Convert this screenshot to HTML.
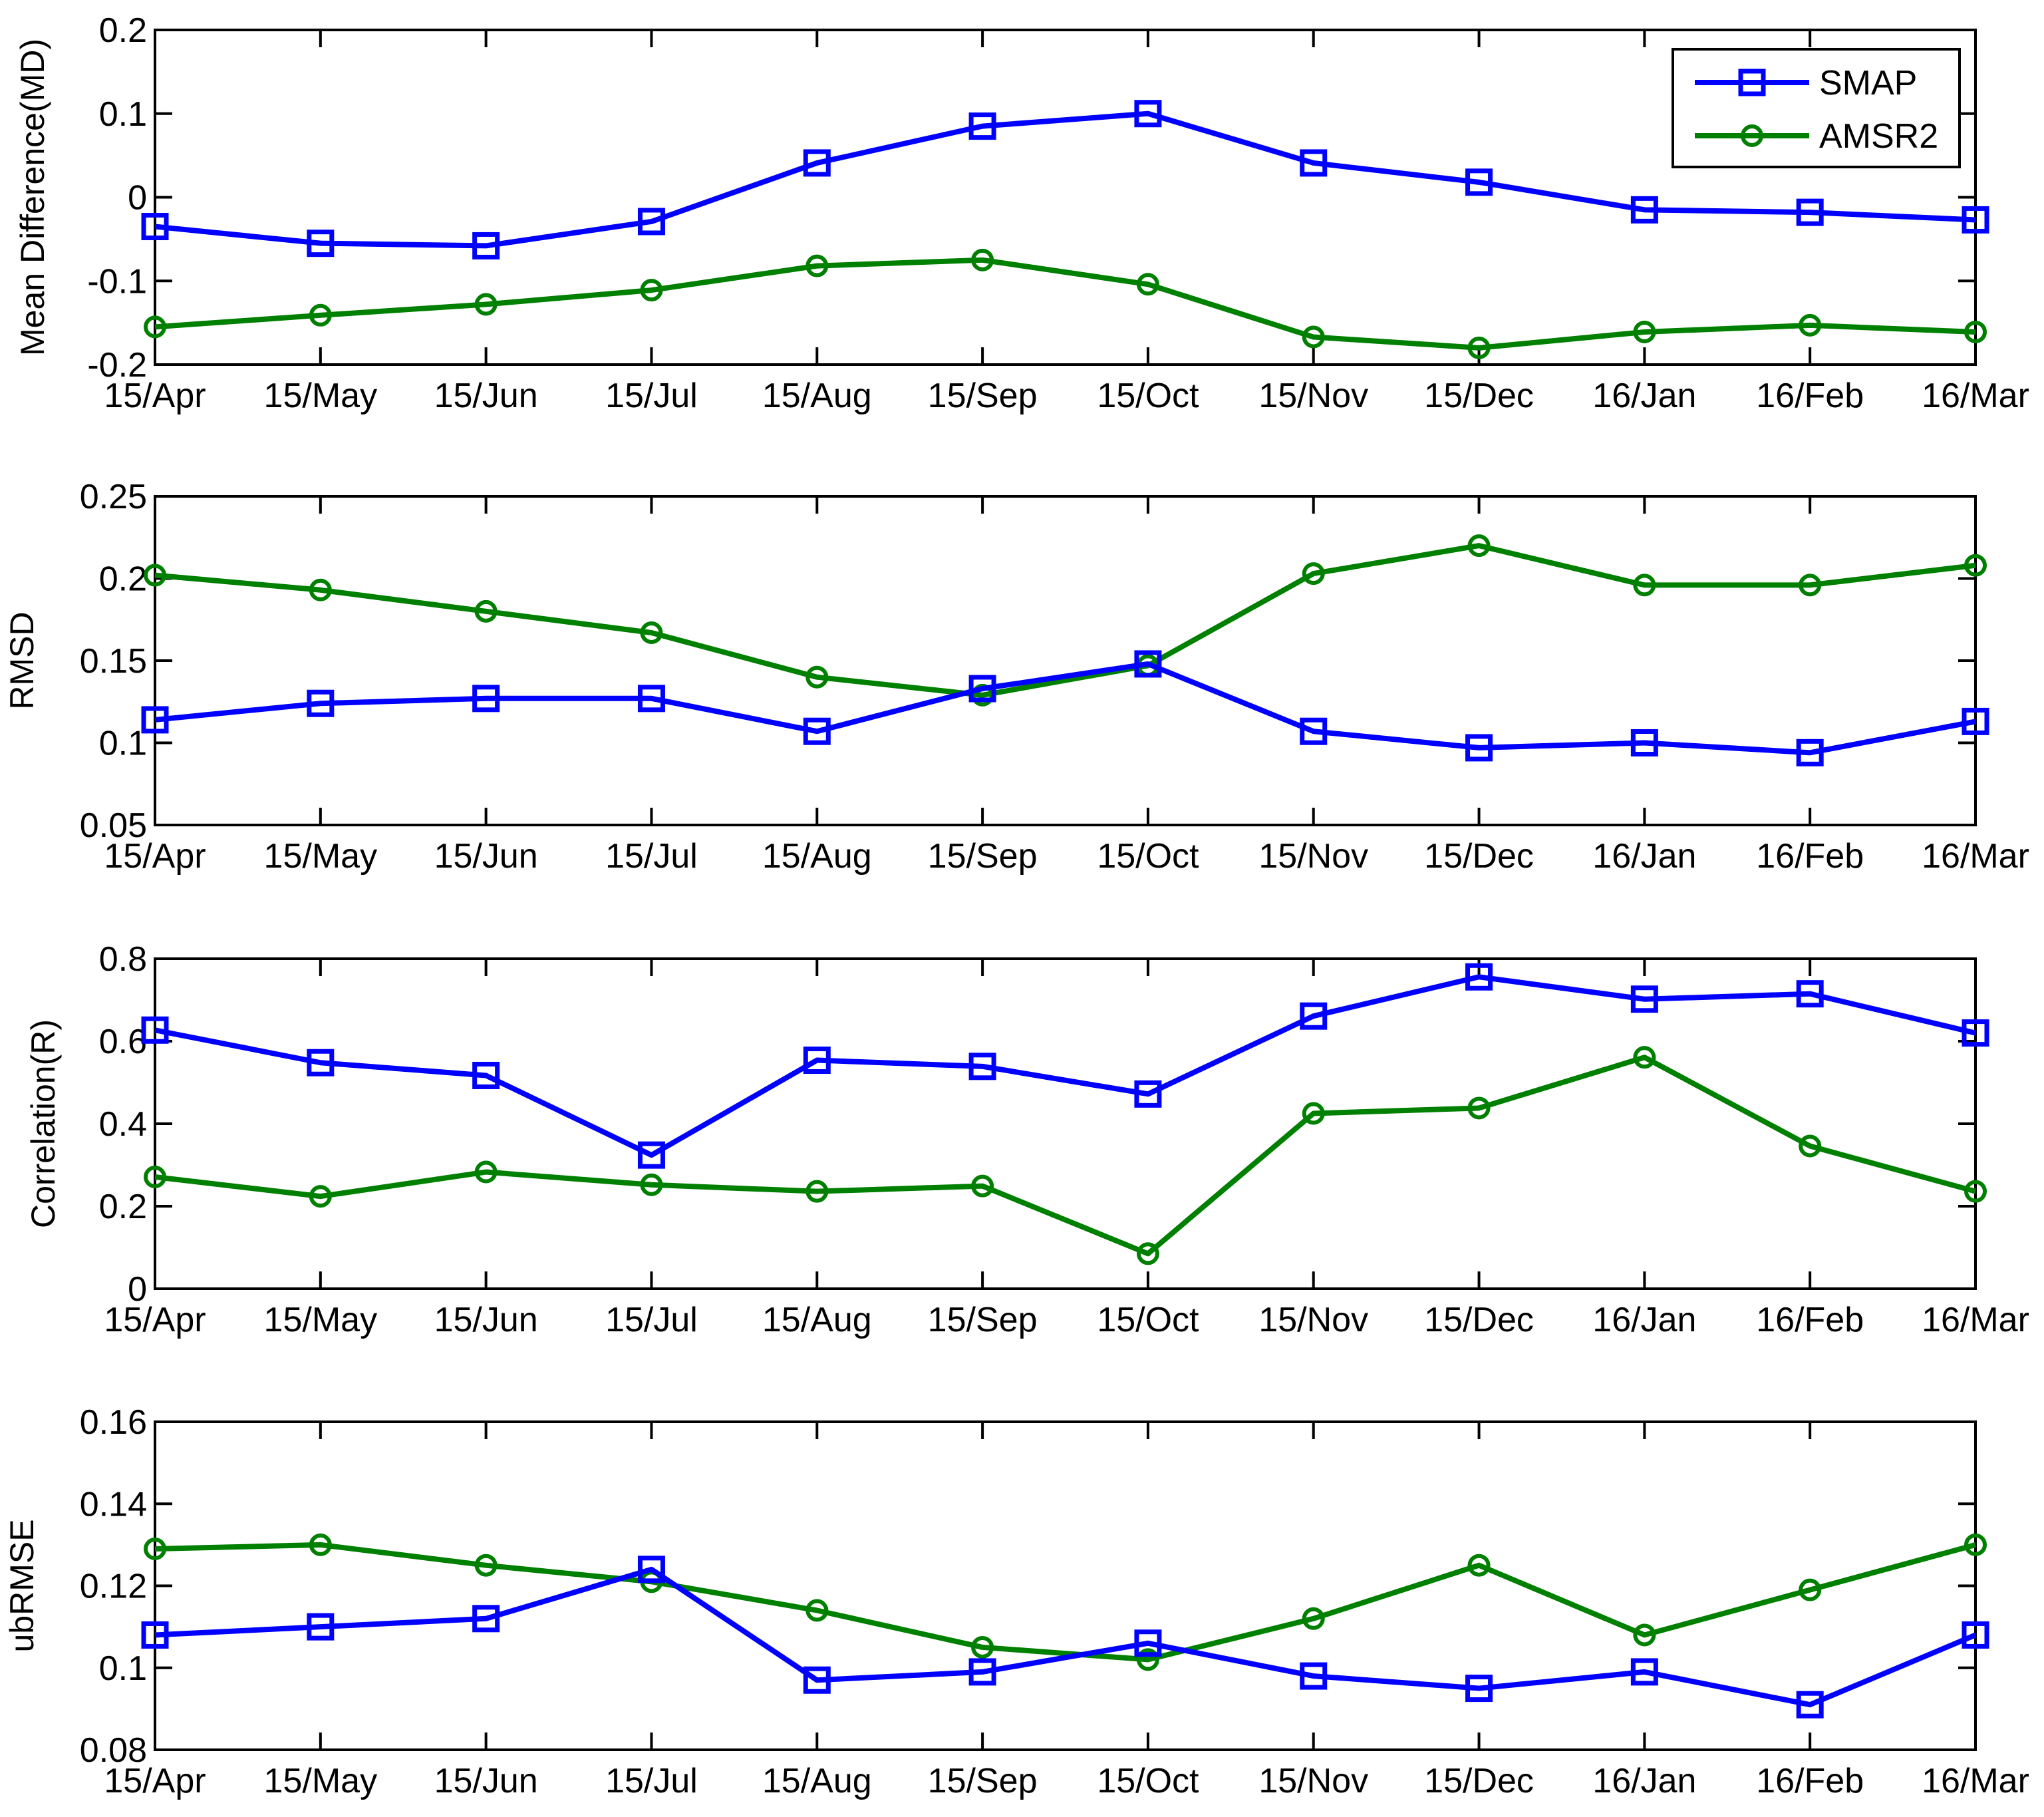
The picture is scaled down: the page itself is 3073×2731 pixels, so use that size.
<!DOCTYPE html>
<html><head><meta charset="utf-8">
<style>
html,body{margin:0;padding:0;background:#fff;}
svg{display:block;}
text{font-family:"Liberation Sans",sans-serif;fill:#000;}
</style></head>
<body>
<svg id="chart" width="3073" height="2731" viewBox="0 0 3073 2731" xmlns="http://www.w3.org/2000/svg"></svg>
<script>
const months = ["15/Apr","15/May","15/Jun","15/Jul","15/Aug","15/Sep","15/Oct","15/Nov","15/Dec","16/Jan","16/Feb","16/Mar"];
const mdSmap = [-0.035,-0.055,-0.058,-0.029,0.041,0.085,0.100,0.041,0.018,-0.015,-0.018,-0.027];
const mdAmsr = [-0.155,-0.141,-0.128,-0.111,-0.082,-0.075,-0.104,-0.167,-0.180,-0.161,-0.153,-0.161];
const rmsdSmap = [0.114,0.124,0.127,0.127,0.107,0.133,0.148,0.107,0.097,0.100,0.094,0.113];
const rmsdAmsr = [0.202,0.193,0.180,0.167,0.140,0.129,0.147,0.203,0.220,0.196,0.196,0.208];
const corrSmap = [0.627,0.548,0.517,0.324,0.554,0.539,0.472,0.661,0.756,0.702,0.715,0.620];
const corrAmsr = [0.271,0.224,0.283,0.252,0.236,0.249,0.085,0.425,0.438,0.561,0.346,0.236];
const ubSmap = [0.108,0.110,0.112,0.124,0.097,0.099,0.106,0.098,0.095,0.099,0.091,0.108];
const ubAmsr = [0.129,0.130,0.125,0.121,0.114,0.105,0.102,0.112,0.125,0.108,0.119,0.130];
const mdTicks = ["-0.2","-0.1","0","0.1","0.2"];
const rmsdTicks = ["0.05","0.1","0.15","0.2","0.25"];
const corrTicks = ["0","0.2","0.4","0.6","0.8"];
const ubTicks = ["0.08","0.1","0.12","0.14","0.16"];

const NS="http://www.w3.org/2000/svg";
const svg=document.getElementById('chart');
function mk(tag,attrs,parent){const e=document.createElementNS(NS,tag);for(const k in attrs)e.setAttribute(k,attrs[k]);(parent||svg).appendChild(e);return e;}
const X0=233,X1=2970;
function xPos(i){return X0+(X1-X0)*i/(months.length-1);}

const panels=[
 {name:"mean-difference",top:45,bot:548,ticks:mdTicks,smap:mdSmap,amsr:mdAmsr,label:"Mean Difference(MD)",lx:66},
 {name:"rmsd",top:746,bot:1240,ticks:rmsdTicks,smap:rmsdSmap,amsr:rmsdAmsr,label:"RMSD",lx:50},
 {name:"correlation",top:1441,bot:1937,ticks:corrTicks,smap:corrSmap,amsr:corrAmsr,label:"Correlation(R)",lx:82},
 {name:"ubrmse",top:2137,bot:2630,ticks:ubTicks,smap:ubSmap,amsr:ubAmsr,label:"ubRMSE",lx:50}
];

panels.forEach(p=>{
 const g=mk('g',{});
 
 
 const tv=p.ticks.map(Number);
 const lo=tv[0],hi=tv[tv.length-1];
 const y=v=>p.bot-(v-lo)/(hi-lo)*(p.bot-p.top);
 p.ticks.forEach(t=>{
  const yy=y(Number(t));
  const l1=mk('line',{x1:X0,x2:X0+26,y1:yy,y2:yy,stroke:'#000','stroke-width':4},g);
  
  
  const l2=mk('line',{x1:X1,x2:X1-26,y1:yy,y2:yy,stroke:'#000','stroke-width':4},g);
  
  
  const tx=mk('text',{x:X0-12,y:yy+18,'font-size':52,'text-anchor':'end'},g);
  tx.textContent=t;
  
  
 });
 months.forEach((m,i)=>{
  const xx=xPos(i);
  const l1=mk('line',{x1:xx,x2:xx,y1:p.bot,y2:p.bot-26,stroke:'#000','stroke-width':4},g);
  
  
  const l2=mk('line',{x1:xx,x2:xx,y1:p.top,y2:p.top+26,stroke:'#000','stroke-width':4},g);
  
  
  const tx=mk('text',{x:xx,y:p.bot+64,'font-size':52,'text-anchor':'middle'},g);
  tx.textContent=m;
  
  
 });
 const ax=mk('rect',{x:X0,y:p.top,width:X1-X0,height:p.bot-p.top,fill:'none',stroke:'#000','stroke-width':4},g);
 
 
 const cy=(p.top+p.bot)/2;
 const yl=mk('text',{x:p.lx,y:cy,'font-size':50,'text-anchor':'middle',transform:`rotate(-90 ${p.lx} ${cy})`},g);
 yl.textContent=p.label;
 
 
 [[p.amsr,'#008000','amsr2'],[p.smap,'#0000ff','smap']].forEach(([vals,col,nm])=>{
  const pts=vals.map((v,i)=>xPos(i)+','+y(v)).join(' ');
  const pl=mk('polyline',{points:pts,fill:'none',stroke:col,'stroke-width':8,'stroke-linejoin':'round'},g);
  
  
  vals.forEach((v,i)=>{
   let mkr;
   if(nm==='smap'){
    mkr=mk('rect',{x:xPos(i)-17,y:y(v)-17,width:34,height:34,fill:'none',stroke:col,'stroke-width':7},g);
   }else{
    mkr=mk('circle',{cx:xPos(i),cy:y(v),r:14,fill:'none',stroke:col,'stroke-width':6},g);
   }
   
   
  });
 });
});

const lg=mk('g',{});


mk('rect',{x:2515,y:74,width:431,height:177,fill:'#fff',stroke:'#000','stroke-width':4},lg);
const e1=mk('g',{},lg);


mk('line',{x1:2548,x2:2720,y1:124,y2:124,stroke:'#0000ff','stroke-width':8},e1);
mk('rect',{x:2617,y:107,width:34,height:34,fill:'none',stroke:'#0000ff','stroke-width':7},e1);
const t1=mk('text',{x:2735,y:142,'font-size':52},e1);t1.textContent='SMAP';
const e2=mk('g',{},lg);


mk('line',{x1:2548,x2:2720,y1:204,y2:204,stroke:'#008000','stroke-width':8},e2);
mk('circle',{cx:2634,cy:204,r:14,fill:'none',stroke:'#008000','stroke-width':6},e2);
const t2=mk('text',{x:2735,y:222,'font-size':52},e2);t2.textContent='AMSR2';
</script>
</body></html>
